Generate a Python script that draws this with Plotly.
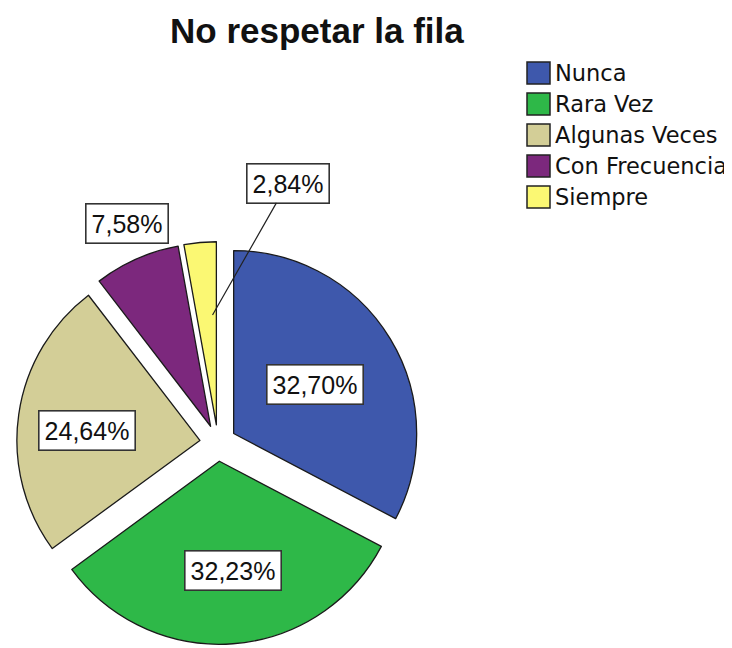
import math

import plotly.graph_objects as go

categories = ["Nunca", "Rara Vez", "Algunas Veces", "Con Frecuencia", "Siempre"]
percentages = [32.70, 32.23, 24.64, 7.58, 2.84]
colors = ["#3E58AC", "#2EB848", "#D3CE97", "#7C287D", "#FBF873"]
title_text = "No respetar la fila"

# the page body has an 8px margin, so the figure is a bit smaller and
# all pixel positions below are given in window pixels
OFF = 8
W, H = 732 - OFF, 648 - OFF
PULL = 0.1
# pie centre / radius in window pixels (used for label placement too)
CX, CY, R = 218, 443, 183


def px_x(x):
    return (x - OFF) / W


def px_y(y):
    return 1 - (y - OFF) / H


fig = go.Figure(
    go.Pie(
        labels=categories,
        values=percentages,
        marker=dict(colors=colors, line=dict(color="#1a1a1a", width=1.3)),
        sort=False,
        direction="clockwise",
        rotation=0,
        pull=PULL,
        textinfo="none",
        hoverinfo="label+percent",
        showlegend=False,
        domain=dict(x=[px_x(CX - R * 1.1), px_x(CX + R * 1.1)],
                    y=[max(0, px_y(CY + R * 1.1)), px_y(CY - R * 1.1)]),
    )
)

# label placement: fraction of radius from the pulled apex and a small
# angular nudge (deg); the last one is called out with a leader line
label_frac = [0.52, 0.6, 0.62, 1.2, 0.6]
label_turn = [0, -3, -3, 1.5, 0]
total = sum(percentages)
cum = 0
annotations = []
for i, (cat, v) in enumerate(zip(categories, percentages)):
    mid = math.radians((cum + v / 2) / total * 360)
    cum += v
    ax_ = CX + PULL * R * math.sin(mid)
    ay_ = CY - PULL * R * math.cos(mid)
    txt = f"{v:.2f}".replace(".", ",") + "%"
    box = dict(
        text=txt,
        xref="paper",
        yref="paper",
        xanchor="center",
        yanchor="middle",
        font=dict(family="Arial, Liberation Sans", size=25, color="#111"),
        bgcolor="white",
        bordercolor="#333",
        borderwidth=1.6,
        borderpad=5,
    )
    if i < len(categories) - 1:
        a = mid + math.radians(label_turn[i])
        lx = ax_ + label_frac[i] * R * math.sin(a)
        ly = ay_ - label_frac[i] * R * math.cos(a)
        box.update(x=px_x(lx), y=px_y(ly), showarrow=False)
    else:
        # small slice: label outside with a leader line
        tip = math.radians(358)
        tx = ax_ + label_frac[i] * R * math.sin(tip)
        ty = ay_ - label_frac[i] * R * math.cos(tip)
        lang = math.radians(15)
        lx = CX + 1.47 * R * math.sin(lang)
        ly = CY - 1.47 * R * math.cos(lang)
        box.update(x=px_x(tx), y=px_y(ty), showarrow=True, arrowhead=0,
                   arrowwidth=1.2, arrowcolor="#222",
                   ax=lx - tx, ay=ly - ty, standoff=0)
    annotations.append(box)

# legend drawn by hand so the swatches match the reference size
shapes = []
leg_x, leg_y, leg_step, sw = 527, 73, 31, 22
for i, (cat, col) in enumerate(zip(categories, colors)):
    yc = leg_y + i * leg_step
    shapes.append(dict(
        type="rect", xref="paper", yref="paper",
        x0=px_x(leg_x), x1=px_x(leg_x + 23),
        y0=px_y(yc + sw / 2), y1=px_y(yc - sw / 2),
        fillcolor=col, line=dict(color="#222", width=1.5),
    ))
    annotations.append(dict(
        text=cat, xref="paper", yref="paper",
        x=px_x(leg_x + 26), y=px_y(yc),
        xanchor="left", yanchor="middle", showarrow=False,
        font=dict(family="DejaVu Sans", size=22.5, color="#111"),
    ))

annotations.append(dict(
    text=f"<b>{title_text}</b>", xref="paper", yref="paper",
    x=px_x(317), y=px_y(31), xanchor="center", yanchor="middle",
    showarrow=False,
    font=dict(family="Arial, Liberation Sans", size=35, color="#111"),
))

fig.update_layout(
    width=W,
    height=H,
    margin=dict(l=0, r=0, t=0, b=0),
    paper_bgcolor="white",
    plot_bgcolor="white",
    annotations=annotations,
    shapes=shapes,
)

fig.write_html("out.html")
